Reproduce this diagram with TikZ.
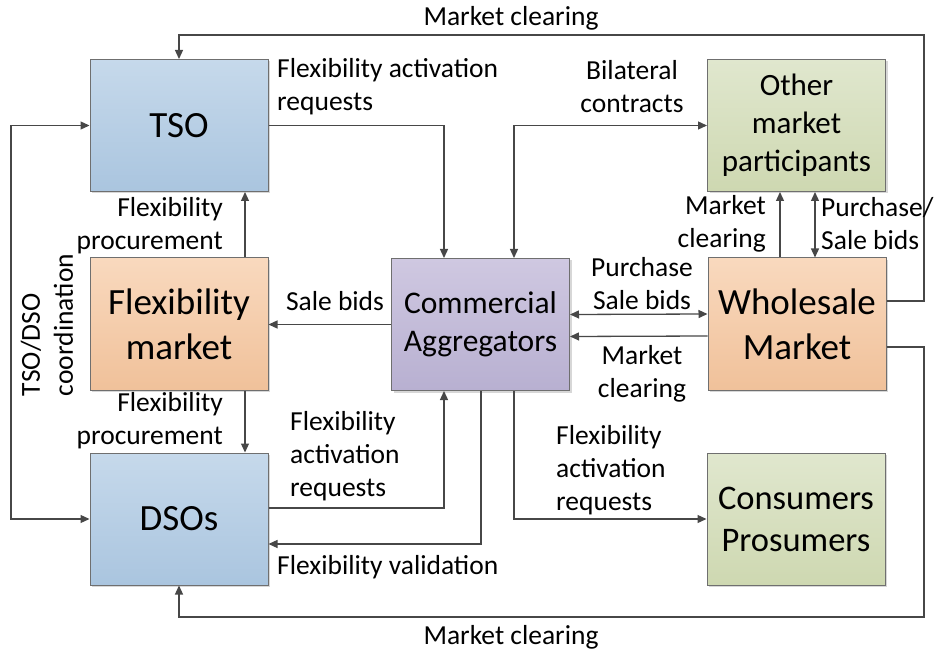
\documentclass[tikz,border=0pt]{standalone}
\usepackage{fontspec}
\setmainfont{Carlito}
\usetikzlibrary{arrows.meta,calc,shadows}
\definecolor{linecol}{HTML}{474747}
\definecolor{boxline}{HTML}{6F6F6F}
\definecolor{blueT}{RGB}{198,217,235}
\definecolor{blueB}{RGB}{170,197,223}
\definecolor{oranT}{RGB}{249,217,190}
\definecolor{oranB}{RGB}{240,193,154}
\definecolor{purpT}{RGB}{207,200,225}
\definecolor{purpB}{RGB}{184,176,209}
\definecolor{grenT}{RGB}{224,231,206}
\definecolor{grenB}{RGB}{206,216,177}
\tikzset{
  box/.style={draw=boxline, line width=1pt, minimum width=178pt, minimum height=132pt,
    inner sep=0pt, align=center, text=black,
    drop shadow={shadow xshift=2pt, shadow yshift=-2pt, fill=black!35, opacity=0.45}},
  bluebox/.style={box, top color=blueT, bottom color=blueB},
  oranbox/.style={box, top color=oranT, bottom color=oranB},
  purpbox/.style={box, top color=purpT, bottom color=purpB},
  grenbox/.style={box, top color=grenT, bottom color=grenB},
  big/.style={font=\fontsize{37}{45}\selectfont},
  arr/.style={draw=linecol, line width=1.3pt, -{Triangle[length=9pt,width=8pt]}},
  arrtwo/.style={draw=linecol, line width=1.3pt, {Triangle[length=9pt,width=8pt]}-{Triangle[length=9pt,width=8pt]}},
  lbl/.style={font=\fontsize{27.5}{33}\selectfont, inner sep=0pt, text=black}
}
\begin{document}
\begin{tikzpicture}[x=1pt,y=-1pt]
\useasboundingbox (0,0) rectangle (938,655);
% boxes
\node[bluebox, big] (tso) at (179,125.5) {TSO};
\node[oranbox, big] (fm) at (179,324) {Flexibility\\market};
\node[bluebox, big] (dso) at (179,519) {DSOs};
\node[purpbox, font=\fontsize{31.5}{38}\selectfont] (ca) at (480.5,324.5) {Commercial\\Aggregators};
\node[grenbox, font=\fontsize{31}{38}\selectfont] (omp) at (796.5,125.5) {Other\\market\\participants};
\node[oranbox, big] (wm) at (797,324) {Wholesale\\Market};
\node[grenbox, font=\fontsize{34.5}{42}\selectfont] (cp) at (796,519) {Consumers\\Prosumers};
% corner coordinates
\coordinate (tr) at (924,35);
\coordinate (lc) at (11,322);
\coordinate (br) at (924,617);
% connectors
\draw[arr] (tso.east) -| ($(ca.north)+(-36.5,0)$);
\draw[arrtwo] ($(ca.north)+(33.5,0)$) |- (omp.west);
\draw[arr] ($(wm.east)+(0,-23)$) -| (tr) -| (tso.north);
\draw[arr] ($(wm.east)+(0,23)$) -| (br) -| (dso.south);
\draw[arrtwo] (tso.west) -| (lc) |- (dso.west);
\draw[arr] ($(fm.north)+(66,0)$) -- ($(tso.south)+(66,0)$);
\draw[arr] ($(fm.south)+(66,0)$) -- ($(dso.north)+(66,0)$);
\draw[arr] (ca.west) -- (ca.west -| fm.east);
\draw[arrtwo] ($(ca.east)+(0,-10)$) -- ($(wm.west)+(0,-10)$);
\draw[arr] ($(wm.west)+(0,12)$) -- ($(ca.east)+(0,12)$);
\draw[arr] ($(wm.north)+(-17,0)$) -- ($(omp.south)+(-16.5,0)$);
\draw[arrtwo] ($(wm.north)+(18,0)$) -- ($(omp.south)+(18.5,0)$);
\draw[arr] ($(dso.east)+(0,-11)$) -| ($(ca.south)+(-36.5,0)$);
\draw[arr] ($(ca.south)+(0.5,0)$) |- ($(dso.east)+(0,25)$);
\draw[arr] ($(ca.south)+(33.5,0)$) |- (cp.west);
% labels
\node[lbl] (l1) at (511,18) {Market clearing};
\node[lbl, align=left, anchor=west] (l2) at (277,86.5) {Flexibility activation\\requests};
\node[lbl, align=center] (l3) at (632,86.5) {Bilateral\\contracts};
\node[lbl, align=right, anchor=east] (l4) at (223,226) {Flexibility\\procurement};
\node[lbl, align=right, anchor=east] (l5) at (223,421) {Flexibility\\procurement};
\node[lbl, align=left, rotate=90] (l6) at (47,325) {TSO/DSO\\coordination};
\node[lbl] (l7) at (335,301) {Sale bids};
\node[lbl, align=center] (l8) at (642,284) {Purchase\\Sale bids};
\node[lbl, align=center] (l9) at (642,374) {Market\\clearing};
\node[lbl, align=right, anchor=east] (l10) at (766,224) {Market\\clearing};
\node[lbl, align=left, anchor=west] (l11) at (821,224) {Purchase/\\Sale bids};
\node[lbl, align=left, anchor=west] (l12) at (290,456) {Flexibility\\activation\\requests};
\node[lbl, anchor=west] (l13) at (277,567) {Flexibility validation};
\node[lbl, align=left, anchor=west] (l14) at (556,470) {Flexibility\\activation\\requests};
\node[lbl] (l15) at (511,637) {Market clearing};
\end{tikzpicture}
\end{document}
